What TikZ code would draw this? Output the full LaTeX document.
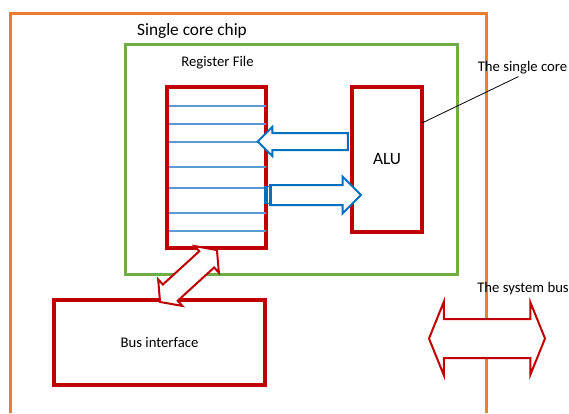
\documentclass[tikz,border=0pt]{standalone}
\usepackage{fontspec}
\setmainfont{Carlito}
\usepackage{tikz}
\usetikzlibrary{shapes.arrows,calc}

\definecolor{chiporange}{HTML}{ED7D31}
\definecolor{coregreen}{HTML}{70AD47}
\definecolor{boxred}{HTML}{C00000}
\definecolor{arrowblue}{HTML}{0070C0}
\definecolor{regblue}{HTML}{5B9BD5}

\newcommand{\smalltxt}{\fontsize{14.7}{17}\selectfont}
\newcommand{\bigtxt}{\fontsize{17.3}{20}\selectfont}

\begin{document}
\begin{tikzpicture}[
  x=1pt,y=-1pt,
  redbox/.style={draw=boxred,line width=4,outer sep=0,inner sep=0,font=\smalltxt},
  regline/.style={draw=regblue,line width=2},
  bluearrow/.style={single arrow,draw=arrowblue,line width=2,fill=white,
    single arrow tip angle=90,inner xsep=0,outer sep=0},
  busarrow/.style={double arrow,draw=boxred,line width=2,fill=white,
    inner xsep=0,outer sep=0},
  lbl/.style={inner sep=0,font=\smalltxt}
]
  \useasboundingbox (0,0) rectangle (569,413);

  % chip outline (runs off the bottom) and the core
  \draw[chiporange,line width=3] (10,413) |- (486,13) -- (486,413);
  \node[draw=coregreen,line width=3,minimum width=332,minimum height=230,outer sep=0] (core) at (291,159) {};

  \node[inner sep=0,font=\bigtxt] (chiplbl) at (192,31) {Single core chip};
  \node[lbl] (reglbl) at (217.5,63) {Register File};

  % register file with its rows
  \node[redbox,minimum width=99,minimum height=161] (regfile) at (216.5,167.5) {};
  \foreach \y in {105.7,123.7,141.7,166.7,188,213,231}
    \draw[regline] ($(regfile.west |- 0,\y)+(2,0)$) -- (regfile.east |- 0,\y);

  \node[redbox,minimum width=70,minimum height=145,font=\bigtxt] (alu) at (387,159.5) {ALU};
  \node[redbox,minimum width=211,minimum height=85] (busif) at (159.5,342.5) {Bus interface};

  % data paths between ALU and registers
  \node[bluearrow,shape border rotate=180,minimum height=90,inner ysep=7.5,
    single arrow head extend=6] (wback) at (307,141.5) {};
  \node[bluearrow,minimum height=91,inner ysep=9,
    single arrow head extend=8.5] (rdout) at (310.5,195) {};
  \fill[arrowblue] (264,186) rectangle (272,204);
  \draw[white,line width=1] (268.5,187) -- (268.5,203);

  % buses
  \node[busarrow,rotate=42.4,minimum height=77,inner ysep=10,
    double arrow head extend=7,double arrow tip angle=105] (rfbus) at (188.5,276) {};
  \node[busarrow,minimum height=116,inner ysep=18.5,
    double arrow head extend=17,double arrow tip angle=136] (sysbus) at (487,338.5) {};

  % callouts
  \node[lbl] (corelbl) at (522.5,68) {The single core};
  \node[lbl] (buslbl) at (523,289) {The system bus};
  \draw[line width=0.8] (alu.east |- 0,123) -- ($(corelbl.south)+(-4,2)$);
\end{tikzpicture}
\end{document}
